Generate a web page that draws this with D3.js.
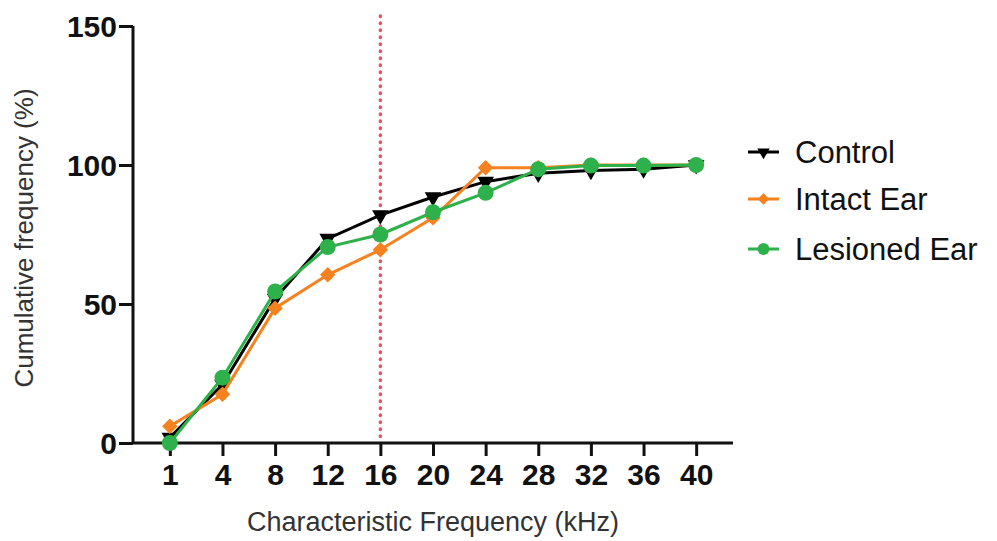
<!DOCTYPE html>
<html>
<head>
<meta charset="utf-8">
<script src="https://cdn.jsdelivr.net/npm/d3@7"></script>
<style>
  body { margin: 0; background: #fff; }
  svg { font-family: "Liberation Sans", Arial, sans-serif; }
</style>
</head>
<body>
<div id="chart"></div>
<script>
// значения
var freqs = ["1", "4", "8", "12", "16", "20", "24", "28", "32", "36", "40"];
var control = [2, 21, 52, 73.5, 82, 88.5, 94, 97, 98, 98.5, 100];
var intact = [6, 17.5, 48.5, 60.5, 69.5, 81, 99, 99, 100, 100, 100];
var lesioned = [0, 23.5, 54.5, 70.5, 75, 83, 90, 98.5, 99.8, 99.8, 100];
var yTicks = [0, 50, 100, 150];
var markLine = "16";

var series = [
  {name: "Control", values: control, color: "#000000", sym: "tri"},
  {name: "Intact Ear", values: intact, color: "#f5821f", sym: "diamond"},
  {name: "Lesioned Ear", values: lesioned, color: "#2eb04b", sym: "circle"}
];

var W = 997, H = 541;
var svg = d3.select("#chart").append("svg").attr("width", W).attr("height", H);

var x = d3.scalePoint().domain(freqs).range([133, 733]).padding(0.7);
var y = d3.scaleLinear().domain([0, 150]).range([443, 26]);

// отметка 16 кГц
svg.append("line")
  .attr("x1", x(markLine)).attr("x2", x(markLine))
  .attr("y1", 16).attr("y2", 443)
  .attr("stroke", "#e8525c").attr("stroke-width", 3.5)
  .attr("stroke-linecap", "round")
  .attr("stroke-dasharray", "0.5,6.5");

var xAxis = svg.append("g").attr("transform", "translate(0,443)")
  .call(d3.axisBottom(x).tickSize(13).tickPadding(8).tickSizeOuter(0));
var yAxis = svg.append("g").attr("transform", "translate(133,0)")
  .call(d3.axisLeft(y).tickValues(yTicks).tickSize(14).tickPadding(2).tickSizeOuter(0));

[xAxis, yAxis].forEach(function (g) {
  g.select(".domain").attr("stroke", "#111").attr("stroke-width", 3);
  g.selectAll(".tick line").attr("stroke", "#111").attr("stroke-width", 3);
  g.selectAll(".tick text").attr("fill", "#111")
    .style("font-size", "30px").style("font-weight", "bold")
    .style("font-family", "'Liberation Sans', Arial, sans-serif");
});
xAxis.select(".domain").attr("d", "M133,0H733");
yAxis.select(".domain").attr("d", "M0,443V26");
yAxis.selectAll(".tick text").attr("dy", "0.36em");

function symbolPath(sym) {
  if (sym === "tri") return d3.symbol().type(d3.symbolTriangle).size(120)();
  if (sym === "diamond") return d3.symbol().type(d3.symbolSquare).size(120)();
  return d3.symbol().type(d3.symbolCircle).size(200)();
}
function symbolRot(sym) {
  if (sym === "tri") return " rotate(180)";
  if (sym === "diamond") return " rotate(45)";
  return "";
}

var line = d3.line().x(function (d, i) { return x(freqs[i]); }).y(function (d) { return y(d); });

series.forEach(function (s) {
  var g = svg.append("g");
  g.append("path").datum(s.values).attr("d", line)
    .attr("fill", "none").attr("stroke", s.color).attr("stroke-width", 3);
  g.selectAll("path.pt").data(s.values).enter().append("path").attr("class", "pt")
    .attr("d", symbolPath(s.sym))
    .attr("transform", function (d, i) {
      return "translate(" + x(freqs[i]) + "," + y(d) + ")" + symbolRot(s.sym);
    })
    .attr("fill", s.color);
});

// легенда
var leg = svg.append("g");
series.forEach(function (s, i) {
  var cy = [152, 199, 249][i];
  leg.append("line").attr("x1", 748).attr("x2", 779).attr("y1", cy).attr("y2", cy)
    .attr("stroke", s.color).attr("stroke-width", 3);
  leg.append("path").attr("d", symbolPath(s.sym))
    .attr("transform", "translate(763.5," + cy + ")" + symbolRot(s.sym) + " scale(0.75)")
    .attr("fill", s.color);
  leg.append("text").attr("x", 795).attr("y", cy).attr("dy", "0.36em")
    .style("font-size", "31px").attr("fill", "#111").text(s.name);
});

svg.append("text").attr("x", 433).attr("y", 531).attr("text-anchor", "middle")
  .style("font-size", "27px").attr("fill", "#333").text("Characteristic Frequency (kHz)");
svg.append("text").attr("transform", "translate(33,238) rotate(-90)").attr("text-anchor", "middle")
  .style("font-size", "26px").attr("fill", "#333").text("Cumulative frequency (%)");
</script>
</body>
</html>
